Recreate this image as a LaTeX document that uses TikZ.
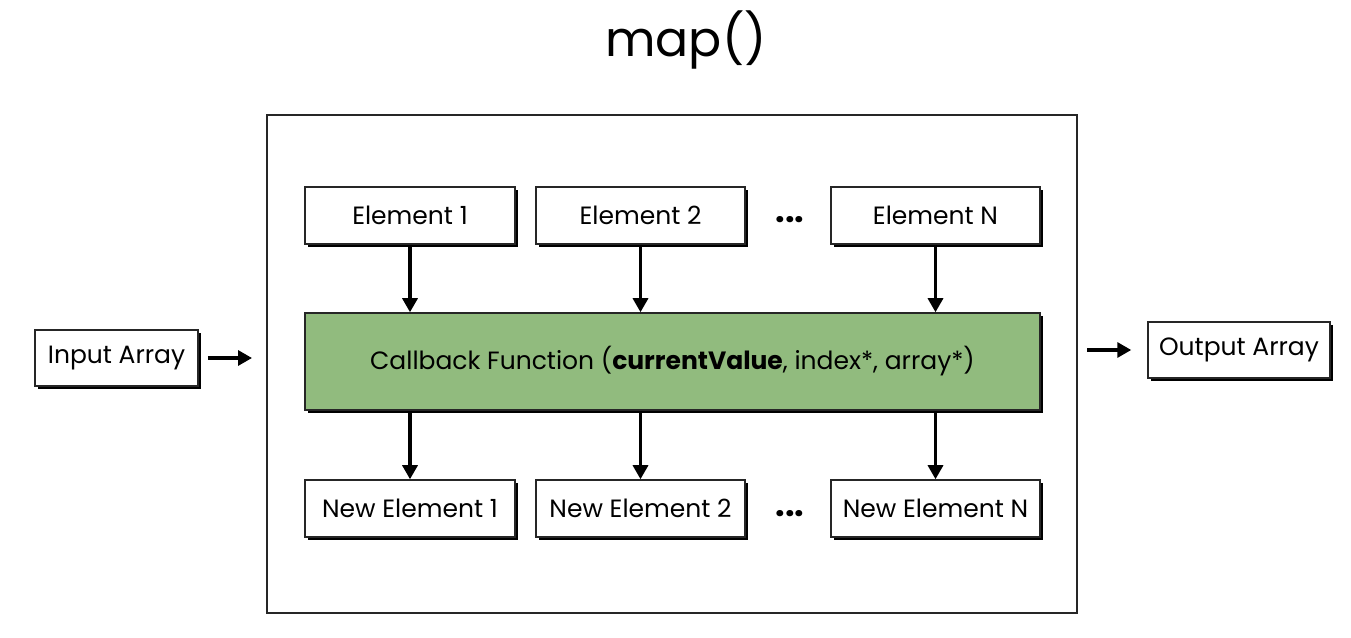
\documentclass[tikz,border=0pt]{standalone}
\usepackage{fontspec}
\setmainfont{Poppins}
\usetikzlibrary{arrows.meta,shadows}
\begin{document}
\begin{tikzpicture}[x=1pt,y=1pt,
  box/.style={draw=black!85, line width=1.5pt, fill=white, minimum height=57pt,
    inner sep=0pt, font=\fontsize{25}{30}\selectfont,
    drop shadow={shadow xshift=3pt, shadow yshift=-3pt, fill=black, opacity=1}},
  arr/.style={line width=3.2pt, -{Triangle[length=14pt,width=15pt]}},
  dots/.style={font=\fontsize{34}{34}\selectfont\bfseries}]
\useasboundingbox (0,0) rectangle (1351,637);
\fill[white] (0,0) rectangle (1351,637);
\node[font=\fontsize{49}{56}\selectfont] (title) at (686,597) {map()};
\node[draw=black!85, line width=2pt, minimum width=810pt, minimum height=498pt] (outer) at (672,273) {};
\node[box, minimum width=210pt] (e1) at (410,421.5) {Element 1};
\node[box, minimum width=209pt] (e2) at (640.5,421.5) {Element 2};
\node[box, minimum width=209pt] (en) at (935.5,421.5) {Element N};
\node[dots] (d1) at (790,417) {...};
\node[box, minimum width=735pt, minimum height=97pt, fill={rgb,255:red,145;green,187;blue,126}] (cb) at (672.5,275.5)
  {Callback Function (\textbf{currentValue}, index*, array*)};
\node[box, minimum width=210pt] (n1) at (410,128.5) {New Element 1};
\node[box, minimum width=209pt] (n2) at (640.5,128.5) {New Element 2};
\node[box, minimum width=209pt] (nn) at (935.5,128.5) {New Element N};
\node[dots] (d2) at (790,123) {...};
\node[box, minimum width=163pt, minimum height=56pt] (in) at (116.5,279) {Input Array};
\node[box, minimum width=182pt, minimum height=56pt] (out) at (1239,287) {Output Array};
\foreach \a/\b in {e1/n1, e2/n2, en/nn}{
  \draw[arr] (\a.south) -- (\a.south |- cb.north);
  \draw[arr] (\a.south |- cb.south) -- (\b.north);
}
\draw[arr, shorten <=9pt, shorten >=14pt] (in.east) -- (in.east -| outer.west);
\draw[arr, shorten <=9pt, shorten >=16pt] (out.west -| outer.east) -- (out.west);
\end{tikzpicture}
\end{document}
